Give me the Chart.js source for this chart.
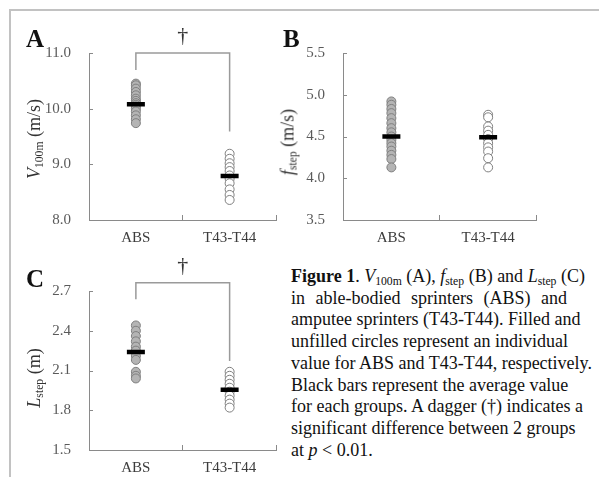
<!DOCTYPE html>
<html>
<head>
<meta charset="utf-8">
<script src="https://cdn.jsdelivr.net/npm/chart.js@4.4.1/dist/chart.umd.min.js"></script>
<style>
  body { margin: 0; background: #fff; overflow: hidden; font-family: "Liberation Serif", serif; }
  #fig { position: relative; width: 599px; height: 477px; }
  .frameTop { position: absolute; left: 10px; top: 9px; width: 589px; height: 2px; background: #c2c2c2; }
  .frameLeft { position: absolute; left: 9px; top: 9px; width: 2px; height: 468px; background: #c2c2c2; }
  .panel { position: absolute; }
  .letter { position: absolute; font-weight: bold; font-size: 25px; color: #111; line-height: 1; }
  .ytitle { position: absolute; transform: translate(-50%, -50%) rotate(-90deg); white-space: nowrap; font-size: 18px; color: #333; }
  .ytitle sub, .caption sub { font-size: 65%; vertical-align: -3px; line-height: 0; }
  .caption { position: absolute; left: 291px; top: 266px; font-size: 18px; line-height: 21.7px; color: #111; white-space: nowrap; }
  .wide { word-spacing: 6px; }
</style>
</head>
<body>
<div id="fig">
  <div class="frameTop"></div>
  <div class="frameLeft"></div>

  <div class="panel" style="left:40px;top:20px;width:250px;height:230px"><canvas id="chartA"></canvas></div>
  <div class="panel" style="left:300px;top:20px;width:250px;height:230px"><canvas id="chartB"></canvas></div>
  <div class="panel" style="left:40px;top:250px;width:250px;height:227px"><canvas id="chartC"></canvas></div>

  <div class="letter" style="left:26px;top:26px">A</div>
  <div class="letter" style="left:283px;top:26px">B</div>
  <div class="letter" style="left:26px;top:266px">C</div>

  <div class="ytitle" style="left:34px;top:139px"><i>V</i><sub>100m</sub> (m/s)</div>
  <div class="ytitle" style="left:288px;top:142px"><i>f</i><sub>step</sub> (m/s)</div>
  <div class="ytitle" style="left:34px;top:378px"><i>L</i><sub>step</sub> (m)</div>

  <div class="caption">
    <b>Figure 1</b>. <i>V</i><sub>100m</sub> (A), <i>f</i><sub>step</sub> (B) and <i>L</i><sub>step</sub> (C)<br>
    <span class="wide">in able-bodied sprinters (ABS) and</span><br>
    amputee sprinters (T43-T44). Filled and<br>
    unfilled circles represent an individual<br>
    value for ABS and T43-T44, respectively.<br>
    Black bars represent the average value<br>
    for each groups. A dagger (†) indicates a<br>
    significant difference between 2 groups<br>
    at <i>p</i> &lt; 0.01.
  </div>
</div>

<script>
// groups on the x axis
const groups = ['ABS', 'T43-T44'];

// A: 100 m velocity (m/s)
const absV100 = [10.45, 10.42, 10.36, 10.30, 10.24, 10.18, 10.14, 10.10, 10.07, 10.04, 10.00, 9.95, 9.88, 9.81, 9.74];
const ampV100 = [9.19, 9.10, 9.02, 8.95, 8.88, 8.80, 8.74, 8.66, 8.55, 8.45, 8.36];
const meanV100 = [10.08, 8.79];

// B: step frequency
const absFstep = [4.92, 4.88, 4.83, 4.78, 4.72, 4.66, 4.60, 4.55, 4.50, 4.46, 4.42, 4.38, 4.33, 4.28, 4.23, 4.13];
const ampFstep = [4.76, 4.73, 4.62, 4.57, 4.52, 4.47, 4.42, 4.37, 4.32, 4.24, 4.13];
const meanFstep = [4.50, 4.49];

// C: step length (m)
const absLstep = [2.44, 2.40, 2.36, 2.32, 2.28, 2.25, 2.21, 2.18, 2.09, 2.06, 2.04];
const ampLstep = [2.09, 2.06, 2.03, 2.00, 1.97, 1.94, 1.91, 1.88, 1.85, 1.82];
const meanLstep = [2.24, 1.955];

// significance brackets: [left leg end, top, right leg end]
const bracketA = [10.695, 11.0, 9.59];
const bracketC = [2.638, 2.762, 2.171];

const serif = 'Liberation Serif';
Chart.defaults.font.family = serif;

// draws inward tick marks and the dagger above a bracket
const axisMarks = {
  id: 'axisMarks',
  afterDraw(chart, args, opts) {
    const { ctx, chartArea, scales: { x, y } } = chart;
    ctx.save();
    ctx.strokeStyle = '#8a8a8a';
    ctx.lineWidth = 1;
    y.ticks.forEach(t => {
      const py = Math.round(y.getPixelForValue(t.value)) + 0.5;
      ctx.beginPath();
      ctx.moveTo(chartArea.left, py);
      ctx.lineTo(chartArea.left + 4, py);
      ctx.stroke();
    });
    [0.5, 1.5].forEach(v => {
      const px = Math.round(x.getPixelForValue(v)) - 0.5;
      ctx.beginPath();
      ctx.moveTo(px, chartArea.bottom);
      ctx.lineTo(px, chartArea.bottom - 5);
      ctx.stroke();
    });
    if (opts.bracket) {
      ctx.fillStyle = '#333';
      ctx.font = '22px "' + serif + '"';
      ctx.textAlign = 'center';
      ctx.textBaseline = 'middle';
      ctx.fillText('†', x.getPixelForValue(0.5), y.getPixelForValue(opts.bracket[1]) - 17);
    }
    ctx.restore();
  }
};

function renderPanel(id, absValues, ampValues, means, yMin, yMax, yStep, yWidth, xHeight, pad, bracket) {
  const ctx = document.getElementById(id).getContext('2d');
  const datasets = [
    {
      label: 'Mean',
      data: means.map((v, i) => ({ x: groups[i], y: v })),
      showLine: false,
      pointStyle: 'line',
      pointRadius: 9,
      pointBorderWidth: 4.5,
      pointBorderColor: '#000',
      order: 0
    },
    {
      label: 'ABS',
      data: absValues.map(v => ({ x: groups[0], y: v })),
      showLine: false,
      pointRadius: 4.5,
      pointBackgroundColor: '#b4b4b4',
      pointBorderColor: '#7f7f7f',
      pointBorderWidth: 1,
      order: 1
    },
    {
      label: 'T43-T44',
      data: ampValues.map(v => ({ x: groups[1], y: v })),
      showLine: false,
      pointRadius: 4.5,
      pointBackgroundColor: '#ffffff',
      pointBorderColor: '#7f7f7f',
      pointBorderWidth: 1,
      order: 2
    }
  ];
  if (bracket) {
    datasets.push({
      label: 'Bracket',
      data: [
        { x: groups[0], y: bracket[0] },
        { x: groups[0], y: bracket[1] },
        { x: groups[1], y: bracket[1] },
        { x: groups[1], y: bracket[2] }
      ],
      borderColor: '#9a9a9a',
      borderWidth: 1.5,
      pointRadius: 0,
      tension: 0,
      fill: false,
      clip: false,
      order: 3
    });
  }

  new Chart(ctx, {
    type: 'line',
    data: { labels: groups, datasets: datasets },
    options: {
      responsive: true,
      maintainAspectRatio: false,
      animation: false,
      events: [],
      layout: { padding: pad },
      plugins: {
        legend: { display: false },
        tooltip: { enabled: false },
        axisMarks: { bracket: bracket }
      },
      scales: {
        x: {
          type: 'category',
          offset: true,
          grid: { display: false, drawTicks: false, offset: true },
          border: { display: true, color: '#8a8a8a', width: 1 },
          ticks: { font: { family: serif, size: 15 }, color: '#3c3c3c', padding: 9 },
          afterFit: scale => { scale.height = xHeight; }
        },
        y: {
          min: yMin,
          max: yMax,
          grid: { display: false, drawTicks: false },
          border: { display: true, color: '#8a8a8a', width: 1 },
          ticks: {
            stepSize: yStep,
            font: { family: serif, size: 15 },
            color: '#5a5a5a',
            padding: 18,
            callback: v => Number(v).toFixed(1)
          },
          afterFit: scale => { scale.width = yWidth; }
        }
      }
    },
    plugins: [axisMarks]
  });
}

function renderAll() {
  renderPanel('chartA', absV100, ampV100, meanV100, 8, 11, 1, 49, 30, { top: 33, right: 8, left: 0, bottom: 0 }, bracketA);
  renderPanel('chartB', absFstep, ampFstep, meanFstep, 3.5, 5.5, 0.5, 43, 30, { top: 33, right: 7, left: 0, bottom: 0 }, null);
  renderPanel('chartC', absLstep, ampLstep, meanLstep, 1.5, 2.7, 0.3, 49, 25, { top: 41, right: 8, left: 0, bottom: 0 }, bracketC);
}

// make sure the serif face is ready before the canvases draw text
document.fonts.load('15px "' + serif + '"').then(renderAll, renderAll);
</script>
</body>
</html>
